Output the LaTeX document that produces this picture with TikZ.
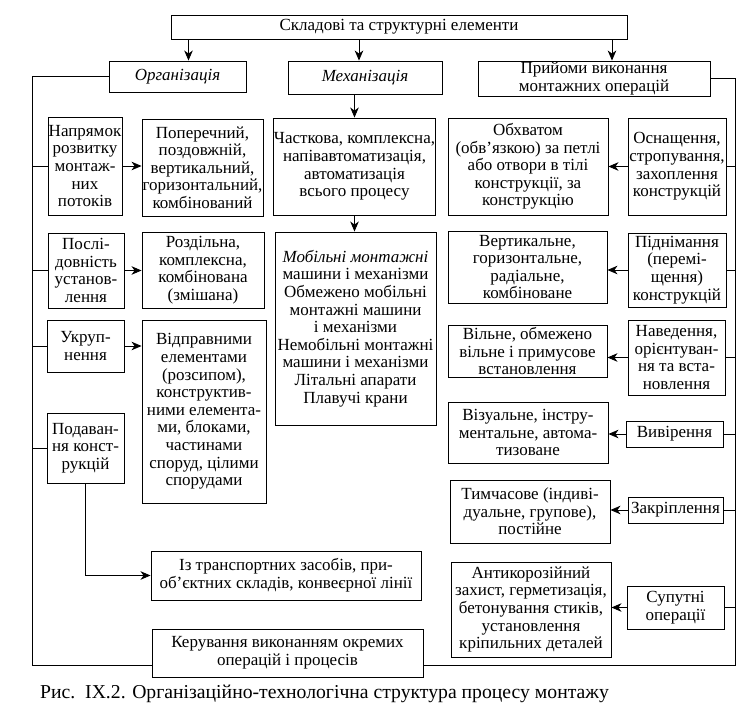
\documentclass[tikz,border=0pt]{standalone}
\usepackage{fontspec}
\setmainfont{Liberation Serif}
\usetikzlibrary{arrows.meta}

\tikzset{
  blk/.style={draw, line width=0.9pt, align=center, inner sep=0.5pt,
    font=\fontsize{17}{17.6}\selectfont},
  arr/.style={line width=0.9pt, -{Stealth[length=10pt,width=8.5pt,inset=3pt]}},
  ln/.style={line width=0.9pt}
}

\begin{document}
\begin{tikzpicture}[x=1pt,y=-1pt]
  \useasboundingbox (0,0) rectangle (753,718);
  % top level
  \node[blk, minimum width=456pt, minimum height=24pt] (top) at (399,27) {Складові та структурні елементи};
  \node[blk, minimum width=137pt, minimum height=31pt] (org) at (177.5,76.5) {\textit{Організація}};
  \node[blk, minimum width=154pt, minimum height=33pt] (mech) at (365,77.5) {\textit{Механізація}};
  \node[blk, minimum width=232pt, minimum height=35pt] (tech) at (594,78.5) {Прийоми виконання\\монтажних операцій};
  \draw[arr] ([xshift=11pt]org.north |- top.south) -- ([xshift=11pt]org.north);
  \draw[arr] ([xshift=-6pt]mech.north |- top.south) -- ([xshift=-6pt]mech.north);
  \draw[arr] ([xshift=18pt]tech.north |- top.south) -- ([xshift=18pt]tech.north);

  % organisation column
  \node[blk, minimum width=74pt, minimum height=98pt] (nap) at (85,166) {Напрямок\\розвитку\\монтаж-\\них\\потоків};
  \node[blk, minimum width=121pt, minimum height=97pt] (napv) at (202.5,167.5) {Поперечний,\\поздовжній,\\вертикальний,\\горизонтальний,\\комбінований};
  \node[blk, minimum width=76pt, minimum height=75pt] (posl) at (86,270.5) {Послі-\\довність\\установ-\\лення};
  \node[blk, minimum width=122pt, minimum height=76pt] (poslv) at (203,270) {Роздільна,\\комплексна,\\комбінована\\(змішана)};
  \node[blk, minimum width=77pt, minimum height=52pt] (ukr) at (85.5,346) {Укруп-\\нення};
  \node[blk, minimum width=124pt, minimum height=183pt] (ukrv) at (204,411.5) {Відправними\\елементами\\(розсипом),\\конструктив-\\ними елемента-\\ми, блоками,\\частинами\\споруд, цілими\\спорудами};
  \node[blk, minimum width=77pt, minimum height=70pt] (pod) at (85.5,448) {Подаван-\\ня конст-\\рукцій};
  \node[blk, minimum width=270pt, minimum height=49pt] (podv) at (286,575.5) {Із транспортних засобів, при-\\об’єктних складів, конвеєрної лінії};
  \node[blk, minimum width=271pt, minimum height=48pt] (ker) at (287.5,653) {Керування виконанням окремих\\операцій і процесів};

  % mechanisation column
  \node[blk, minimum width=161pt, minimum height=97pt] (mecha) at (354.5,166.5) {Часткова, комплексна,\\напівавтоматизація,\\автоматизація\\всього процесу};
  \node[blk, minimum width=161pt, minimum height=193pt] (mechb) at (355.5,328.5) {\textit{Мобільні монтажні}\\машини і механізми\\Обмежено мобільні\\монтажні машини\\і механізми\\Немобільні монтажні\\машини і механізми\\Літальні апарати\\Плавучі крани};
  \draw[arr] (mecha.north |- mech.south) -- (mecha.north);
  \draw[arr] (mecha.south) -- (mecha.south |- mechb.north);

  % operations column
  \node[blk, minimum width=98pt, minimum height=97pt] (osn) at (677,166.5) {Оснащення,\\стропування,\\захоплення\\конструкцій};
  \node[blk, minimum width=160pt, minimum height=97pt] (osnv) at (528,166.5) {Обхватом\\(обв’язкою) за петлі\\або отвори в тілі\\конструкції, за\\конструкцію};
  \node[blk, minimum width=98pt, minimum height=74pt] (pid) at (677,270) {Піднімання\\(перемі-\\щення)\\конструкцій};
  \node[blk, minimum width=159pt, minimum height=72pt] (pidv) at (527.5,267) {Вертикальне,\\горизонтальне,\\радіальне,\\комбіноване};
  \node[blk, minimum width=97pt, minimum height=75pt] (nav) at (676.5,357.5) {Наведення,\\орієнтуван-\\ня та вста-\\новлення};
  \node[blk, minimum width=159pt, minimum height=52pt] (navv) at (527.5,351) {Вільне, обмежено\\вільне і примусове\\встановлення};
  \node[blk, minimum width=97pt, minimum height=26pt] (viv) at (674.5,434) {Вивірення};
  \node[blk, minimum width=160pt, minimum height=61pt] (vivv) at (528,432.5) {Візуальне, інстру-\\ментальне, автома-\\тизоване};
  \node[blk, minimum width=95pt, minimum height=26pt] (zak) at (675.5,510) {Закріплення};
  \node[blk, minimum width=160pt, minimum height=63pt] (zakv) at (530,511.5) {Тимчасове (індиві-\\дуальне, групове),\\постійне};
  \node[blk, minimum width=97pt, minimum height=43pt] (sup) at (675.5,607.5) {Супутні\\операції};
  \node[blk, minimum width=160pt, minimum height=95pt] (supv) at (531,609.5) {Антикорозійний\\захист, герметизація,\\бетонування стиків,\\установлення\\кріпильних деталей};

  % rails
  \coordinate (lrail) at (32,0);
  \coordinate (rrail) at (735,0);
  \draw[ln] (org.west) -- (org.west -| lrail) |- ([yshift=12pt]ker.south west);
  \draw[ln] (tech.east) -- (tech.east -| rrail) |- ([yshift=12pt]ker.south east);

  \draw[ln] (nap.west) -- (nap.west -| lrail);
  \draw[ln] (posl.west) -- (posl.west -| lrail);
  \draw[ln] (ukr.west) -- (ukr.west -| lrail);
  \draw[ln] (pod.west) -- (pod.west -| lrail);
  \draw[arr] (nap.east) -- (nap.east -| napv.west);
  \draw[arr] (posl.east) -- (posl.east -| poslv.west);
  \draw[arr] (ukr.east) -- (ukr.east -| ukrv.west);
  \draw[arr] (pod.south) |- (podv.west);

  \draw[ln] (osn.east) -- (osn.east -| rrail);
  \draw[ln] (pid.east) -- (pid.east -| rrail);
  \draw[ln] (nav.east) -- (nav.east -| rrail);
  \draw[ln] (viv.east) -- (viv.east -| rrail);
  \draw[ln] (zak.east) -- (zak.east -| rrail);
  \draw[ln] (sup.east) -- (sup.east -| rrail);
  \draw[arr] (osn.west) -- (osn.west -| osnv.east);
  \draw[arr] (pid.west) -- (pid.west -| pidv.east);
  \draw[arr] (nav.west) -- (nav.west -| navv.east);
  \draw[arr] (viv.west) -- (viv.west -| vivv.east);
  \draw[arr] (zak.west) -- (zak.west -| zakv.east);
  \draw[arr] (sup.west) -- (sup.west -| supv.east);

  % caption
  \node[anchor=west, inner sep=0pt, font=\fontsize{19.7}{22}\selectfont] (cap) at (40,694) {Рис.~~IX.2. Організаційно-технологічна структура процесу монтажу};
\end{tikzpicture}
\end{document}
